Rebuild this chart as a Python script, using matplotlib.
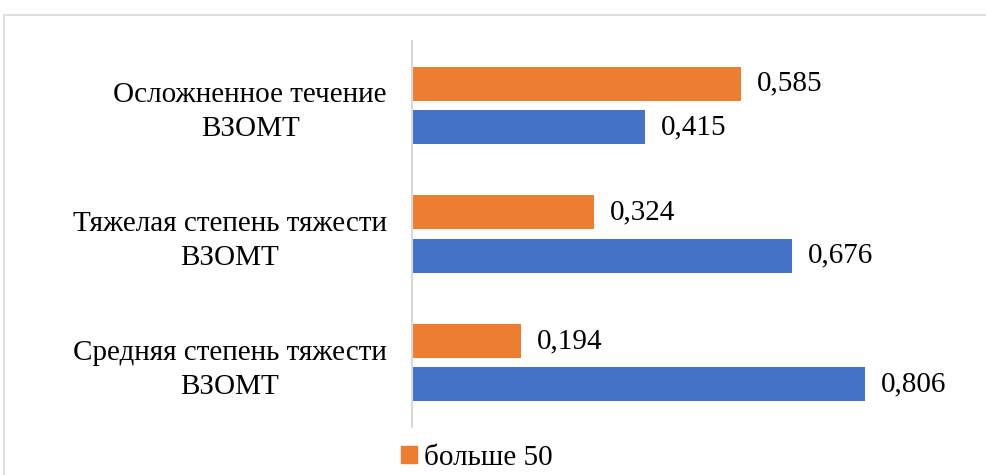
import matplotlib.pyplot as plt
from matplotlib.patches import Patch, Rectangle
from matplotlib.transforms import ScaledTranslation
import numpy as np

categories = ['Средняя степень тяжести\nВЗОМТ',
              'Тяжелая степень тяжести\nВЗОМТ',
              'Осложненное течение\nВЗОМТ']
over_50 = [0.194, 0.324, 0.585]
under_50 = [0.806, 0.676, 0.415]

ORANGE = '#ED7D31'
BLUE = '#4472C4'
GRID = '#D9D9D9'

plt.rcParams['font.family'] = ['Liberation Serif', 'DejaVu Serif']

fig = plt.figure(figsize=(9.87, 4.75), dpi=100)
ax = fig.add_axes([412 / 987, 1 - 427 / 475, (974 - 412) / 987, (427 - 41) / 475])

y = np.arange(len(categories))
h = 0.265
off = 0.168
ax.barh(y + off, over_50, height=h, color=ORANGE)
ax.barh(y - off, under_50, height=h, color=BLUE)

for yi, v in zip(y, over_50):
    ax.text(v + 0.028, yi + off, f'{v:.3f}'.replace('.', ','), va='center', ha='left', fontsize=21)
for yi, v in zip(y, under_50):
    ax.text(v + 0.028, yi - off, f'{v:.3f}'.replace('.', ','), va='center', ha='left', fontsize=21)

ax.set_xlim(0, 1.0)
ax.set_ylim(-0.5, 2.5)
ax.set_yticks(y)
ax.set_yticklabels(categories, fontsize=21)
# nudge the two-line labels up a little so they sit centred on each pair of bars
shift = ScaledTranslation(0, 5 / 100, fig.dpi_scale_trans)
for lbl in ax.get_yticklabels():
    lbl.set_multialignment('center')
    lbl.set_linespacing(1.4)
    lbl.set_transform(lbl.get_transform() + shift)
ax.tick_params(axis='y', length=0, pad=18)
ax.set_xticks([])
for side in ['top', 'right', 'bottom']:
    ax.spines[side].set_visible(False)
ax.spines['left'].set_color(GRID)
ax.spines['left'].set_linewidth(1.5)

# outer chart border, running off the right and bottom edges
fig.patches.append(Rectangle((4.5 / 987, -0.1), 1.2, 1 - 14.5 / 475 + 0.1,
                             transform=fig.transFigure, fill=False,
                             edgecolor=GRID, linewidth=1.2))

fig.legend(handles=[Patch(color=ORANGE, label='больше 50')],
           loc='center left', bbox_to_anchor=(389 / 987, 1 - 458 / 475),
           frameon=False, fontsize=21, handlelength=0.55, handleheight=0.55,
           handletextpad=0.25, borderaxespad=0)

fig.savefig('out.png', dpi=100)
